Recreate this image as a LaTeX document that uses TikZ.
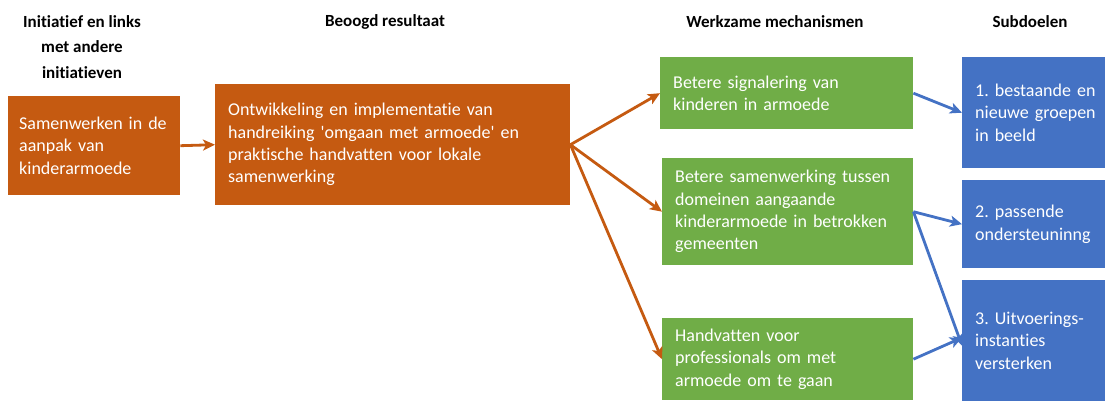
\documentclass[tikz,border=0pt]{standalone}
\usepackage{fontspec}
\setmainfont[Ligatures=NoCommon]{Carlito}
\usetikzlibrary{positioning,arrows.meta}
\frenchspacing

\definecolor{oranje}{HTML}{C55A11}
\definecolor{groen}{HTML}{70AD47}
\definecolor{blauw}{HTML}{4472C4}

\begin{document}
\begin{tikzpicture}[
  x=1pt, y=-1pt,
  blok/.style={rectangle, anchor=north west, inner xsep=13pt, inner ysep=0pt,
               align=left, text=white, font=\fontsize{18}{22.3}\selectfont},
  kop/.style={align=center, font=\bfseries\fontsize{17}{25.5}\selectfont},
  oranjepijl/.style={-{Stealth[length=12pt,width=11pt,inset=3pt]}, line width=2.8pt, draw=oranje},
  blauwpijl/.style={-{Stealth[length=12pt,width=11pt,inset=3pt]}, line width=2.8pt, draw=blauw}
]
\useasboundingbox (0,0) rectangle (1105,401);

% ====== KOPPEN ======
\node[kop] (kop1) at (82,47) {Initiatief en links\\met andere\\initiatieven};
\node[kop] (kop2) at (385,22) {Beoogd resultaat};
\node[kop] (kop3) at (775,22) {Werkzame mechanismen};
\node[kop] (kop4) at (1030,22) {Subdoelen};

% ====== BLOKKEN ======
\node[blok, fill=oranje, inner xsep=11pt, text width=150pt, minimum height=99pt] (samenwerken) at (8,96)
  {Samenwerken in de\\aanpak van\\kinderarmoede};
\node[blok, fill=oranje, text width=329pt, minimum height=121pt] (resultaat) at (215,84)
  {Ontwikkeling en implementatie van\\handreiking \textquotesingle omgaan met armoede\textquotesingle{} en\\praktische handvatten voor lokale\\samenwerking};

\node[blok, fill=groen, text width=227pt, minimum height=72pt] (signalering) at (660,57)
  {Betere signalering van\\kinderen in armoede};
\node[blok, fill=groen, text width=225pt, minimum height=107pt] (samenwerking) at (662,158)
  {Betere samenwerking tussen\\domeinen aangaande\\kinderarmoede in betrokken\\gemeenten};
\node[blok, fill=groen, text width=225pt, minimum height=82pt] (handvatten) at (662,318)
  {Handvatten voor\\professionals om met\\armoede om te gaan};

\node[blok, fill=blauw, text width=124pt, minimum height=111pt] (sub1) at (962,57)
  {1. bestaande en\\nieuwe groepen\\in beeld};
\node[blok, fill=blauw, text width=124pt, minimum height=88pt] (sub2) at (962,180)
  {2. passende\\ondersteuninng};
\node[blok, fill=blauw, text width=124pt, minimum height=121pt] (sub3) at (962,280)
  {3. Uitvoerings-\\instanties\\versterken};

% ====== PIJLEN ======
\draw[oranjepijl] (samenwerken.east) -- (resultaat.west);
\draw[oranjepijl] (resultaat.east) -- (signalering.west);
\draw[oranjepijl] (resultaat.east) -- (samenwerking.west);
\draw[oranjepijl] (resultaat.east) -- (handvatten.west);

\draw[blauwpijl] (signalering.east) -- (sub1.west);
\draw[blauwpijl] (samenwerking.east) -- (sub2.west);
\draw[blauwpijl] (samenwerking.east) -- ([yshift=-5pt]sub3.west);
\draw[blauwpijl] (handvatten.east) -- ([yshift=3pt]sub3.west);

\end{tikzpicture}
\end{document}
